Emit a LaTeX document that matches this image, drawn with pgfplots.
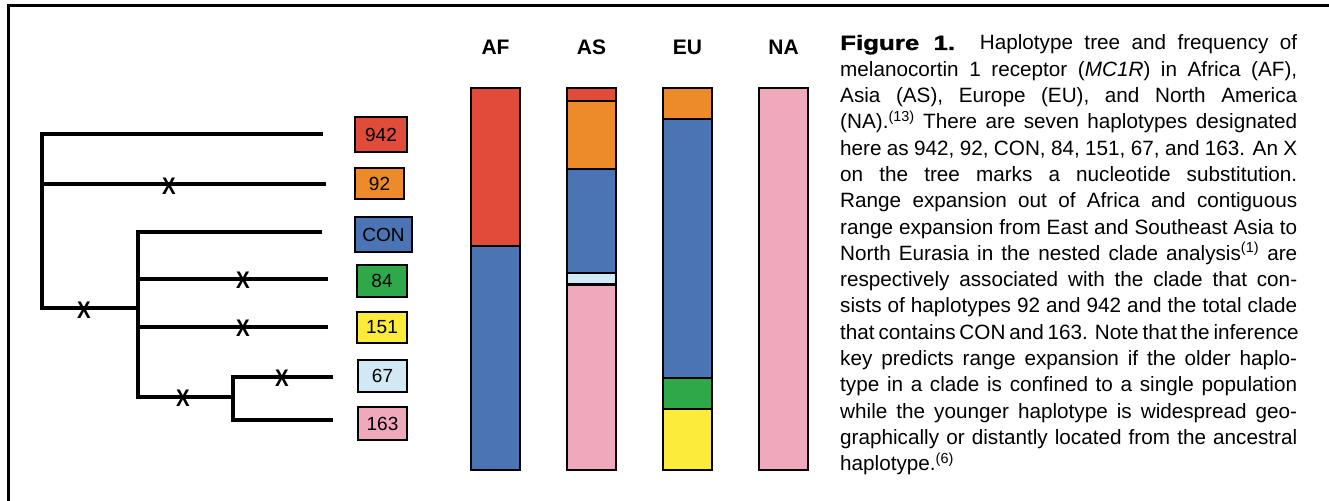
\documentclass[border=0pt]{standalone}
\usepackage{fontspec}
\setmainfont{Liberation Sans}
\newfontfamily\figfont{Liberation Sans}[FakeStretch=1.25, FakeBold=1.3]
\usepackage{pgfplots}
\pgfplotsset{compat=1.18}
\definecolor{hRed}{HTML}{E04B3A}
\definecolor{hOrange}{HTML}{ED8A2A}
\definecolor{hBlue}{HTML}{4A74B4}
\definecolor{hGreen}{HTML}{2FA84A}
\definecolor{hYellow}{HTML}{FCEB3A}
\definecolor{hLight}{HTML}{D2E8F5}
\definecolor{hPink}{HTML}{F0A8BC}
\newcommand{\Ln}[1]{\hbox to 457bp{#1}}
\tikzset{hbox/.style={draw=black, line width=2.8bp, inner sep=0pt, minimum width=50bp, minimum height=32bp, font=\fontsize{19bp}{19bp}\selectfont}}
\begin{document}
\begin{tikzpicture}
\path[use as bounding box] (0,0) rectangle (1329bp,501bp);
\begin{axis}[at={(0,0)}, anchor=south west, width=1329bp, height=501bp, scale only axis,
  xmin=0, xmax=1329, ymin=0, ymax=501, y dir=reverse, hide axis, clip=false]
% frame
\addplot[black, line width=3bp] coordinates {(1329,6) (8,6) (8,501)};
% tree
\addplot[black, line width=3.2bp, line join=miter] coordinates {(323,134) (42,134) (42,308) (138,308)};
\addplot[black, line width=3.2bp] coordinates {(326,184) (42,184)};
\addplot[black, line width=3.2bp, line join=miter] coordinates {(322,232) (138,232) (138,397) (233,397)};
\addplot[black, line width=3.2bp] coordinates {(328,279) (138,279)};
\addplot[black, line width=3.2bp] coordinates {(328,327) (138,327)};
\addplot[black, line width=3.2bp, line join=miter] coordinates {(333,377) (233,377) (233,420) (333,420)};
% substitutions
\addplot[only marks, mark=none, nodes near coords={X}, nodes near coords align=center,
  every node near coord/.style={font=\fontsize{24bp}{24bp}\selectfont\bfseries, xscale=0.85, inner sep=0pt, anchor=center, black}]
  coordinates {(169,186) (84,310) (243,280) (243,328) (183,398) (282,378)};
% haplotype boxes
\node[hbox, fill=hRed, minimum width=52bp, minimum height=35bp] at (axis cs:381,134.5) {942};
\node[hbox, fill=hOrange, minimum width=49bp, minimum height=31bp] at (axis cs:379.5,183.5) {92};
\node[hbox, fill=hBlue, minimum width=57bp, minimum height=35bp] at (axis cs:383.5,234.5) {CON};
\node[hbox, fill=hGreen] at (axis cs:382,281) {84};
\node[hbox, fill=hYellow, minimum height=31bp] at (axis cs:382,327.5) {151};
\node[hbox, fill=hLight, minimum width=49bp] at (axis cs:382.5,376) {67};
\node[hbox, fill=hPink, minimum width=49bp, minimum height=33bp] at (axis cs:382.5,423.5) {163};
% caption
\node[anchor=base west, inner sep=0pt] at (axis cs:840,50) {\vtop{\fontsize{20.7bp}{26.3bp}\selectfont
\Ln{{\figfont\bfseries Figure 1.} Haplotype tree and frequency of}
\Ln{melanocortin 1 receptor (\textit{MC1R}) in Africa (AF),}
\Ln{Asia (AS), Europe (EU), and North America}
\Ln{(NA).\textsuperscript{(13)} There are seven haplotypes designated}
\Ln{here as 942, 92, CON, 84, 151, 67, and 163. An X}
\Ln{on the tree marks a nucleotide substitution.}
\Ln{Range expansion out of Africa and contiguous}
\Ln{range expansion from East and Southeast Asia to}
\Ln{North Eurasia in the nested clade analysis\textsuperscript{(1)} are}
\Ln{respectively associated with the clade that con-}
\Ln{sists of haplotypes 92 and 942 and the total clade}
\Ln{that contains CON and 163. Note that the inference}
\Ln{key predicts range expansion if the older haplo-}
\Ln{type in a clade is confined to a single population}
\Ln{while the younger haplotype is widespread geo-}
\Ln{graphically or distantly located from the ancestral}
\hbox{haplotype.\textsuperscript{(6)}}}};
\end{axis}
% stacked frequency bars
\begin{axis}[at={(447.5bp,31bp)}, anchor=south west, width=384bp, height=382bp, scale only axis,
  xmin=-0.5, xmax=3.5, ymin=0, ymax=100, ybar stacked, bar width=0.51,
  axis line style={draw=none}, tick style={draw=none}, major tick length=0pt,
  xtick={0,1,2,3}, xticklabels={AF,AS,EU,NA}, xticklabel pos=upper, ytick=\empty,
  xticklabel style={font=\fontsize{21bp}{21bp}\selectfont\bfseries, anchor=center, yshift=41bp},
  every axis plot/.append style={draw=black, line width=2.6bp}, clip=false]
\addplot[fill=hPink]   coordinates {(0,0) (1,48.5) (2,0) (3,100)};
\addplot[fill=hLight]  coordinates {(0,0) (1,3.1) (2,0) (3,0)};
\addplot[fill=hYellow] coordinates {(0,0) (1,0) (2,16.0) (3,0)};
\addplot[fill=hGreen]  coordinates {(0,0) (1,0) (2,8.1) (3,0)};
\addplot[fill=hBlue]   coordinates {(0,58.6) (1,27.2) (2,67.8) (3,0)};
\addplot[fill=hOrange] coordinates {(0,0) (1,17.8) (2,8.1) (3,0)};
\addplot[fill=hRed]    coordinates {(0,41.4) (1,3.4) (2,0) (3,0)};
\end{axis}
\end{tikzpicture}
\end{document}
